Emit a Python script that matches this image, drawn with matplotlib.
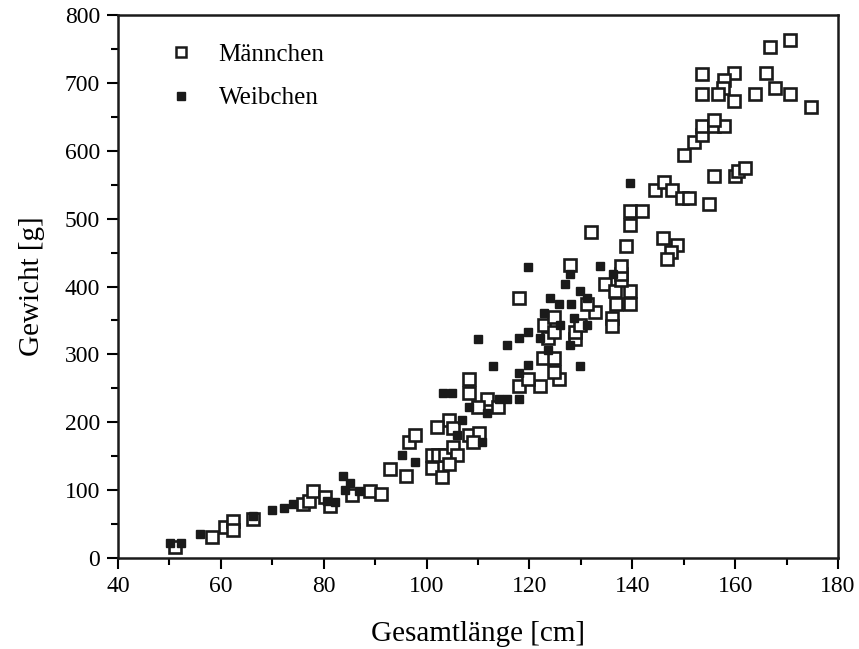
import matplotlib
matplotlib.use("Agg")
import matplotlib.pyplot as plt
from matplotlib.ticker import MultipleLocator

# --- Daten ---
maennchen_x = [51.1, 58.2, 60.8, 62.3, 62.3, 66.3, 76.0, 77.2, 78.0, 80.3, 81.2, 85.5, 89.0, 91.2,
               92.9, 96.0, 96.6, 97.8, 101.0, 102.3, 103.6, 105.1, 106.0, 104.3, 101.0, 103.0,
               104.3, 102.0, 105.1, 108.2, 110.1, 109.1, 108.2, 108.2, 111.7, 110.0, 113.9,
               117.9, 122.1, 119.8, 125.7, 124.7, 122.7, 124.7, 123.7, 122.9, 124.7, 124.7,
               128.8, 128.8, 129.9, 132.8, 131.2, 136.0, 136.0, 136.9, 139.6, 117.9,
               134.7, 136.7, 139.6, 137.8, 137.8, 137.8, 127.9,
               132.0, 139.6, 138.8, 139.6, 141.8, 144.5, 146.1, 147.7, 149.7, 151.0, 155.0,
               146.0, 148.7, 147.5, 146.7, 150.1, 151.9, 153.6, 153.6, 155.8, 157.8, 155.8,
               155.8, 160.0, 160.5, 162.0, 153.6, 159.8, 165.9, 157.8, 157.7, 167.7, 153.6,
               156.6, 163.9, 170.7, 159.8, 174.7, 170.7, 166.8]
maennchen_y = [16, 31, 45, 54, 42, 58, 80, 84, 99, 90, 76, 93, 99, 94,
               131, 121, 171, 181, 152, 152, 152, 163, 152, 139, 132, 120,
               203, 193, 192, 181, 184, 171, 263, 243, 234, 223, 223,
               253, 253, 263, 263, 274, 294, 294, 324, 343, 333, 355,
               322, 333, 343, 363, 374, 354, 342, 374, 374, 383,
               403, 393, 393, 409, 419, 430, 431,
               480, 491, 460, 511, 511, 542, 554, 542, 531, 531, 521,
               471, 461, 451, 441, 594, 613, 623, 636, 636, 636, 645,
               563, 563, 570, 574, 713, 714, 714, 704, 692, 693, 683,
               683, 683, 683, 674, 664, 763, 753]

weibchen_x = [50.1, 52.3, 56.0, 66.3, 70.0, 72.2, 74.0, 80.6, 82.2, 83.8, 85.1, 84.2, 86.8,
              95.2, 97.8, 103.1, 104.9, 106.9, 105.9, 110.8, 114.0, 115.6, 117.9, 108.2,
              111.7, 109.9, 115.6, 117.9, 119.8, 122.1, 127.9, 123.6, 129.8, 113.0, 119.8,
              117.9, 122.9, 125.7, 128.0, 126.0, 128.6, 131.2, 119.8, 127.9, 133.7, 136.2,
              127.0, 129.8, 124.0, 131.2, 139.6]
weibchen_y = [22, 22, 35, 62, 70, 73, 80, 84, 83, 121, 110, 100, 99,
              152, 141, 243, 243, 203, 181, 171, 234, 234, 234, 223,
              213, 322, 314, 324, 333, 324, 314, 306, 283, 283, 284,
              273, 361, 374, 374, 343, 354, 343, 429, 419, 430, 419,
              403, 393, 383, 383, 553]

plt.rcParams['font.family'] = ['Liberation Serif', 'DejaVu Serif']

fig = plt.figure(figsize=(8.59, 6.49), dpi=100)
ax = fig.add_axes([0.1374, 0.1402, 0.8382, 0.8367])

ax.plot(maennchen_x, maennchen_y, ls='none', marker='s', ms=8.8, mfc='white',
        mec='#1a1a1a', mew=1.9, label='Männchen', zorder=3)
ax.plot(weibchen_x, weibchen_y, ls='none', marker='s', ms=5.2, mfc='#1a1a1a',
        mec='#1a1a1a', label='Weibchen', zorder=4)

ax.set_xlim(40, 180)
ax.set_ylim(0, 800)
ax.xaxis.set_major_locator(MultipleLocator(20))
ax.xaxis.set_minor_locator(MultipleLocator(10))
ax.yaxis.set_major_locator(MultipleLocator(100))
ax.yaxis.set_minor_locator(MultipleLocator(50))
ax.tick_params(which='major', direction='out', length=8, width=1.5, labelsize=17, pad=5)
ax.tick_params(which='minor', direction='out', length=5, width=1.5)
for s in ax.spines.values():
    s.set_linewidth(1.8)
    s.set_color('#1a1a1a')

ax.set_xlabel('Gesamtlänge [cm]', fontsize=21, labelpad=17)
ax.set_ylabel('Gewicht [g]', fontsize=21, labelpad=14)

leg = ax.legend(loc='upper left', frameon=False, fontsize=18, handletextpad=0.5,
                borderaxespad=0.4, bbox_to_anchor=(0.025, 0.985), labelspacing=0.85)
leg.legend_handles[0].set_markersize(7)
leg.legend_handles[0].set_markeredgewidth(1.8)

fig.savefig('out.png', dpi=100, facecolor='white')
